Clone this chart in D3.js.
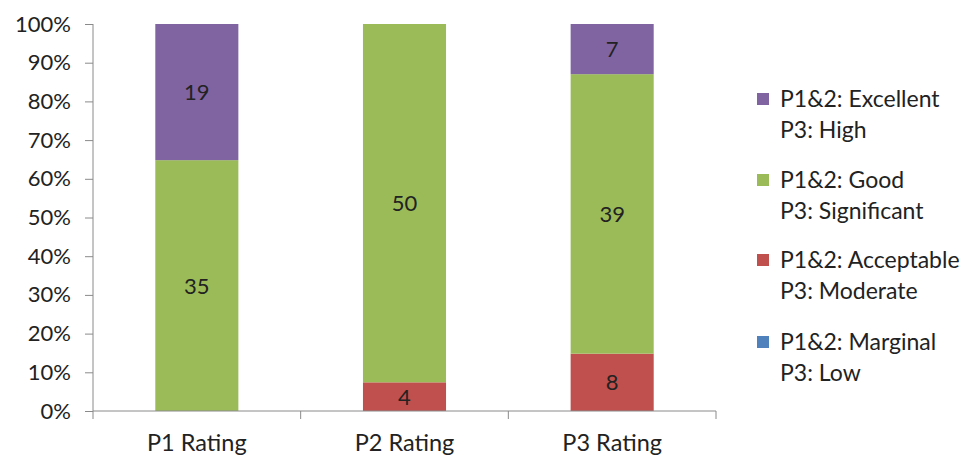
<!DOCTYPE html>
<html>
<head>
<meta charset="utf-8">
<script src="https://cdn.jsdelivr.net/npm/d3@7"></script>
<style>
  html, body { margin: 0; padding: 0; background: #fff; }
  svg { display: block; font-family: Lato, "Open Sans", sans-serif; }
</style>
</head>
<body>
<svg id="chart" width="973" height="459"></svg>
<script>
// Ratings per project phase, counted by level
const categories = ["P1 Rating", "P2 Rating", "P3 Rating"];
const seriesKeys = ["marginal", "acceptable", "good", "excellent"];
const marginal   = [0, 0, 0];
const acceptable = [0, 4, 8];
const good       = [35, 50, 39];
const excellent  = [19, 0, 7];
const legendLines = [
  ["P1&2: Excellent", "P3: High"],
  ["P1&2: Good", "P3: Significant"],
  ["P1&2: Acceptable", "P3: Moderate"],
  ["P1&2: Marginal", "P3: Low"]
];
const legendKeys = ["excellent", "good", "acceptable", "marginal"];
const yTicks = [0, 0.1, 0.2, 0.3, 0.4, 0.5, 0.6, 0.7, 0.8, 0.9, 1];

const colors = {
  excellent: "#8064A2",
  good: "#9BBB59",
  acceptable: "#C0504D",
  marginal: "#4F81BD"
};

const rows = categories.map((c, i) => ({
  cat: c,
  marginal: marginal[i],
  acceptable: acceptable[i],
  good: good[i],
  excellent: excellent[i]
}));

const svg = d3.select("#chart");
const plotLeft = 93, plotRight = 716, plotTop = 24, plotBottom = 411;
const textColor = "#222";

const x = d3.scaleBand().domain(categories).range([plotLeft, plotRight])
  .paddingInner(0.6).paddingOuter(0.3);
const y = d3.scaleLinear().domain([0, 1]).range([plotBottom, plotTop]);

const stack = d3.stack().keys(seriesKeys).offset(d3.stackOffsetExpand);
const layers = stack(rows);

// Bars with count labels centred in each segment
const g = svg.append("g");
layers.forEach(layer => {
  const key = layer.key;
  layer.forEach((seg, i) => {
    const raw = rows[i][key];
    if (!raw) return;
    g.append("rect")
      .attr("x", x(rows[i].cat))
      .attr("width", x.bandwidth())
      .attr("y", y(seg[1]))
      .attr("height", y(seg[0]) - y(seg[1]))
      .attr("fill", colors[key]);
    g.append("text")
      .attr("x", x(rows[i].cat) + x.bandwidth() / 2)
      .attr("y", (y(seg[0]) + y(seg[1])) / 2)
      .attr("dy", "0.36em")
      .attr("text-anchor", "middle")
      .attr("font-size", 22)
      .attr("fill", textColor)
      .text(raw);
  });
});

// Y axis
const yAxis = svg.append("g")
  .attr("transform", `translate(${plotLeft},0)`)
  .call(d3.axisLeft(y).tickValues(yTicks).tickFormat(d3.format(".0%")).tickSize(8).tickPadding(14));
yAxis.selectAll("line, path").attr("stroke", "#8a8a8a");
yAxis.select(".domain").attr("d", `M0,${plotTop}V${plotBottom}`);
yAxis.selectAll("text").attr("font-size", 22).attr("fill", textColor)
  .attr("font-family", "Lato, 'Open Sans', sans-serif");

// X axis with boundary ticks between categories
const xAxisG = svg.append("g").attr("transform", `translate(0,${plotBottom})`);
xAxisG.append("line").attr("x1", plotLeft).attr("x2", plotRight).attr("stroke", "#8a8a8a");
const boundaries = d3.range(categories.length + 1)
  .map(i => plotLeft + i * (plotRight - plotLeft) / categories.length);
xAxisG.selectAll(".bt").data(boundaries).join("line")
  .attr("x1", d => d).attr("x2", d => d).attr("y1", 0).attr("y2", 8)
  .attr("stroke", "#8a8a8a");
xAxisG.selectAll(".cl").data(categories).join("text")
  .attr("x", d => x(d) + x.bandwidth() / 2)
  .attr("y", 40)
  .attr("text-anchor", "middle")
  .attr("font-size", 23.5)
  .attr("fill", textColor)
  .text(d => d);

// Legend
const legendY = [99, 180, 260, 342];
const leg = svg.append("g");
legendKeys.forEach((k, i) => {
  leg.append("rect")
    .attr("x", 757).attr("y", legendY[i] - 6)
    .attr("width", 12).attr("height", 12)
    .attr("fill", colors[k]);
  legendLines[i].forEach((t, j) => {
    leg.append("text")
      .attr("x", 780)
      .attr("y", legendY[i] + 8 + j * 31)
      .attr("font-size", 23)
      .attr("fill", textColor)
      .text(t);
  });
});
</script>
</body>
</html>
